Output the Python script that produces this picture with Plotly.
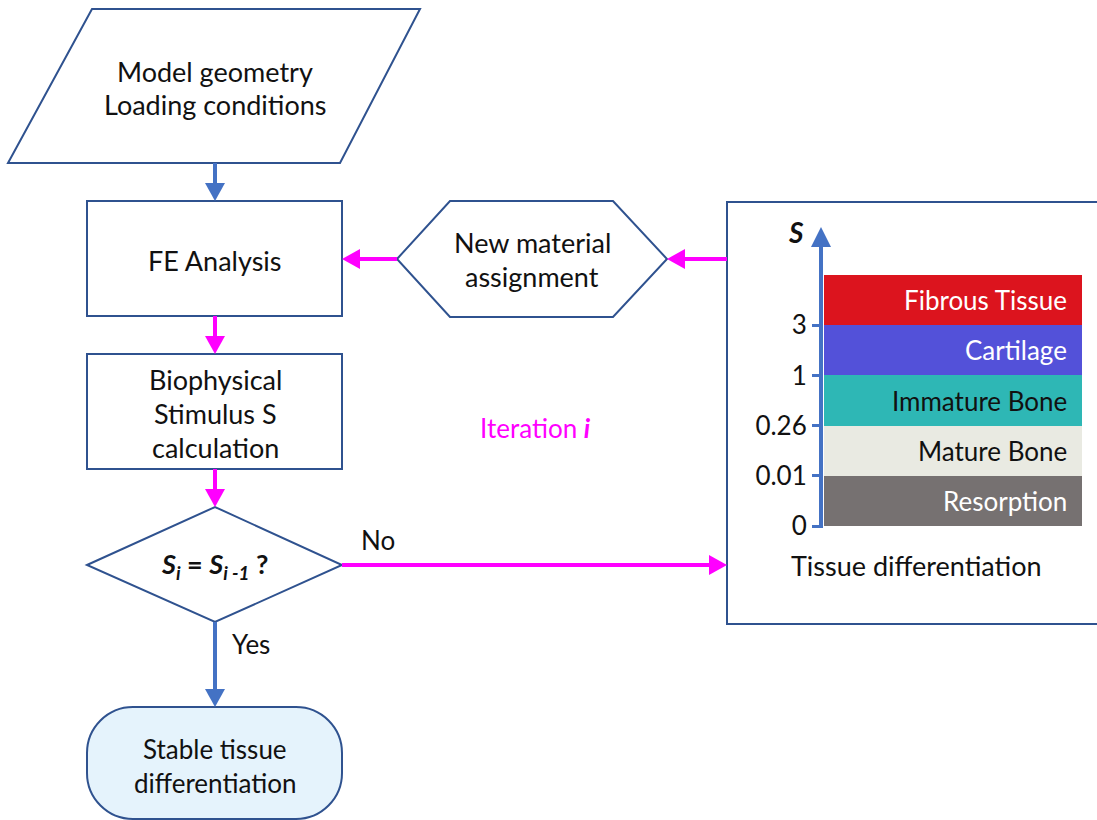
import plotly.graph_objects as go

# ---- data ----
tissue_categories = ["Resorption", "Mature Bone", "Immature Bone", "Cartilage", "Fibrous Tissue"]
band_heights = [1, 1, 1, 1, 1]
band_colors = ["#767171", "#E9EAE2", "#2EB7B5", "#5351D9", "#DC141E"]
band_text_colors = ["white", "#111111", "#111111", "white", "white"]
threshold_ticks = [0, 1, 2, 3, 4]
threshold_labels = ["0", "0.01", "0.26", "1", "3"]

W, H = 1097, 820
FONT = "Lato"
FS = 27
OUTLINE = "#2F528F"
BLUE = "#4472C4"
MAG = "#FF00FF"

fig = go.Figure()
fig.add_trace(go.Scatter(x=[0], y=[0], mode="markers", marker=dict(opacity=0),
                         hoverinfo="skip", showlegend=False, xaxis="x", yaxis="y"))

for cat, h, c in zip(tissue_categories, band_heights, band_colors):
    fig.add_trace(go.Bar(x=[0], y=[h], name=cat, marker=dict(color=c, line=dict(width=0)),
                         width=1, xaxis="x2", yaxis="y2", showlegend=False, hoverinfo="skip"))

shapes = []

def path(d, line_color=OUTLINE, lw=2, fill=None):
    s = dict(type="path", xref="x", yref="y", path=d, line=dict(color=line_color, width=lw))
    if fill:
        s["fillcolor"] = fill
    shapes.append(s)

def line(x0, y0, x1, y1, color, lw=4):
    shapes.append(dict(type="line", xref="x", yref="y", x0=x0, y0=y0, x1=x1, y1=y1,
                       line=dict(color=color, width=lw)))

def head(tx, ty, direction, color, L=18, Wd=10):
    if direction == "down":
        d = f"M{tx-Wd},{ty-L} L{tx+Wd},{ty-L} L{tx},{ty} Z"
    elif direction == "up":
        d = f"M{tx-Wd},{ty+L} L{tx+Wd},{ty+L} L{tx},{ty} Z"
    elif direction == "left":
        d = f"M{tx+L},{ty-Wd} L{tx+L},{ty+Wd} L{tx},{ty} Z"
    else:
        d = f"M{tx-L},{ty-Wd} L{tx-L},{ty+Wd} L{tx},{ty} Z"
    shapes.append(dict(type="path", xref="x", yref="y", path=d, fillcolor=color,
                       line=dict(color=color, width=0)))

# parallelogram
path("M92,9 L420,9 L340,163 L8,163 Z")
# FE box
shapes.append(dict(type="rect", xref="x", yref="y", x0=87, x1=342, y0=201, y1=316,
                   line=dict(color=OUTLINE, width=2)))
# Biophysical box
shapes.append(dict(type="rect", xref="x", yref="y", x0=87, x1=342, y0=354, y1=469,
                   line=dict(color=OUTLINE, width=2)))
# diamond
path("M87,565 L215,507 L342,565 L215,622 Z")
# hexagon
path("M397,259 L450,201 L613,201 L667,259 L613,317 L450,317 Z")
# terminal (rounded)
l, r, t, b, rad = 87, 342, 707, 819, 46
k = 0.5523 * rad
path(f"M{l+rad},{t} L{r-rad},{t} C{r-rad+k},{t} {r},{t+rad-k} {r},{t+rad} "
     f"L{r},{b-rad} C{r},{b-rad+k} {r-rad+k},{b} {r-rad},{b} "
     f"L{l+rad},{b} C{l+rad-k},{b} {l},{b-rad+k} {l},{b-rad} "
     f"L{l},{t+rad} C{l},{t+rad-k} {l+rad-k},{t} {l+rad},{t} Z", fill="#E5F3FC")
# tissue box
shapes.append(dict(type="rect", xref="x", yref="y", x0=727, x1=1110, y0=202, y1=624,
                   line=dict(color=OUTLINE, width=2)))

# arrows
line(215, 163, 215, 190, BLUE); head(215, 201, "down", BLUE)
line(215, 316, 215, 340, MAG); head(215, 354, "down", MAG)
line(215, 469, 215, 494, MAG); head(215, 507, "down", MAG)
line(215, 622, 215, 692, BLUE); head(215, 707, "down", BLUE)
line(397, 259, 356, 259, MAG); head(342, 259, "left", MAG)
line(727, 259, 682, 259, MAG); head(667, 259, "left", MAG)
line(342, 565, 712, 565, MAG); head(727, 565, "right", MAG)
# inset axis arrow
line(821, 527, 821, 243, BLUE, lw=4); head(821, 227, "up", BLUE, L=20, Wd=10)

ann = []

def txt(x, y, s, size=FS, color="#111111", xanchor="center"):
    ann.append(dict(x=x, y=y, xref="x", yref="y", text=s, showarrow=False,
                    font=dict(family=FONT, size=size, color=color), xanchor=xanchor,
                    yanchor="middle"))

txt(215, 71, "Model geometry")
txt(215, 104, "Loading conditions")
txt(215, 260, "FE Analysis")
txt(215, 379, "Biophysical")
txt(215, 413, "Stimulus S")
txt(215, 447, "calculation")
txt(215, 565, "<b><i>S<sub>i</sub></i> = <i>S<sub>i -1</sub></i> ?</b>")
txt(532, 242, "New material")
txt(532, 276, "assignment")
txt(535, 428, "Iteration <b><i>i</i></b>", size=26, color=MAG)
txt(378, 540, "No", size=26)
txt(251, 644, "Yes", size=26)
txt(215, 749, "Stable tissue", size=26)
txt(215, 783, "differentiation", size=26)
txt(916, 565, "Tissue differentiation")
txt(796, 232, "<b><i>S</i></b>", size=28)

for i, (cat, tc) in enumerate(zip(tissue_categories, band_text_colors)):
    ann.append(dict(x=0.45, y=sum(band_heights[:i]) + band_heights[i] / 2, xref="x2", yref="y2",
                    text=cat, showarrow=False, xanchor="right", yanchor="middle",
                    font=dict(family=FONT, size=26, color=tc)))

fig.update_layout(
    width=W, height=H, margin=dict(l=0, r=0, t=0, b=0, autoexpand=False),
    paper_bgcolor="white", plot_bgcolor="rgba(0,0,0,0)",
    barmode="stack", bargap=0,
    xaxis=dict(range=[0, W], domain=[0, 1], visible=False, fixedrange=True),
    yaxis=dict(range=[H, 0], domain=[0, 1], visible=False, fixedrange=True),
    xaxis2=dict(domain=[824 / W, 1082 / W], range=[-0.5, 0.5], visible=False, anchor="y2",
                fixedrange=True),
    yaxis2=dict(domain=[1 - 526 / H, 1 - 275 / H], range=[0, 5], anchor="x2", fixedrange=True,
                tickvals=threshold_ticks, ticktext=threshold_labels, ticks="outside",
                ticklen=11, tickwidth=3, tickcolor=BLUE, showgrid=False, zeroline=False,
                showline=False, tickfont=dict(family=FONT, size=26, color="#111111")),
    shapes=shapes, annotations=ann, showlegend=False,
)

fig.write_html("out.html", config={"displayModeBar": False},
               post_script="document.body.style.margin='0';document.body.style.overflow='hidden';")
